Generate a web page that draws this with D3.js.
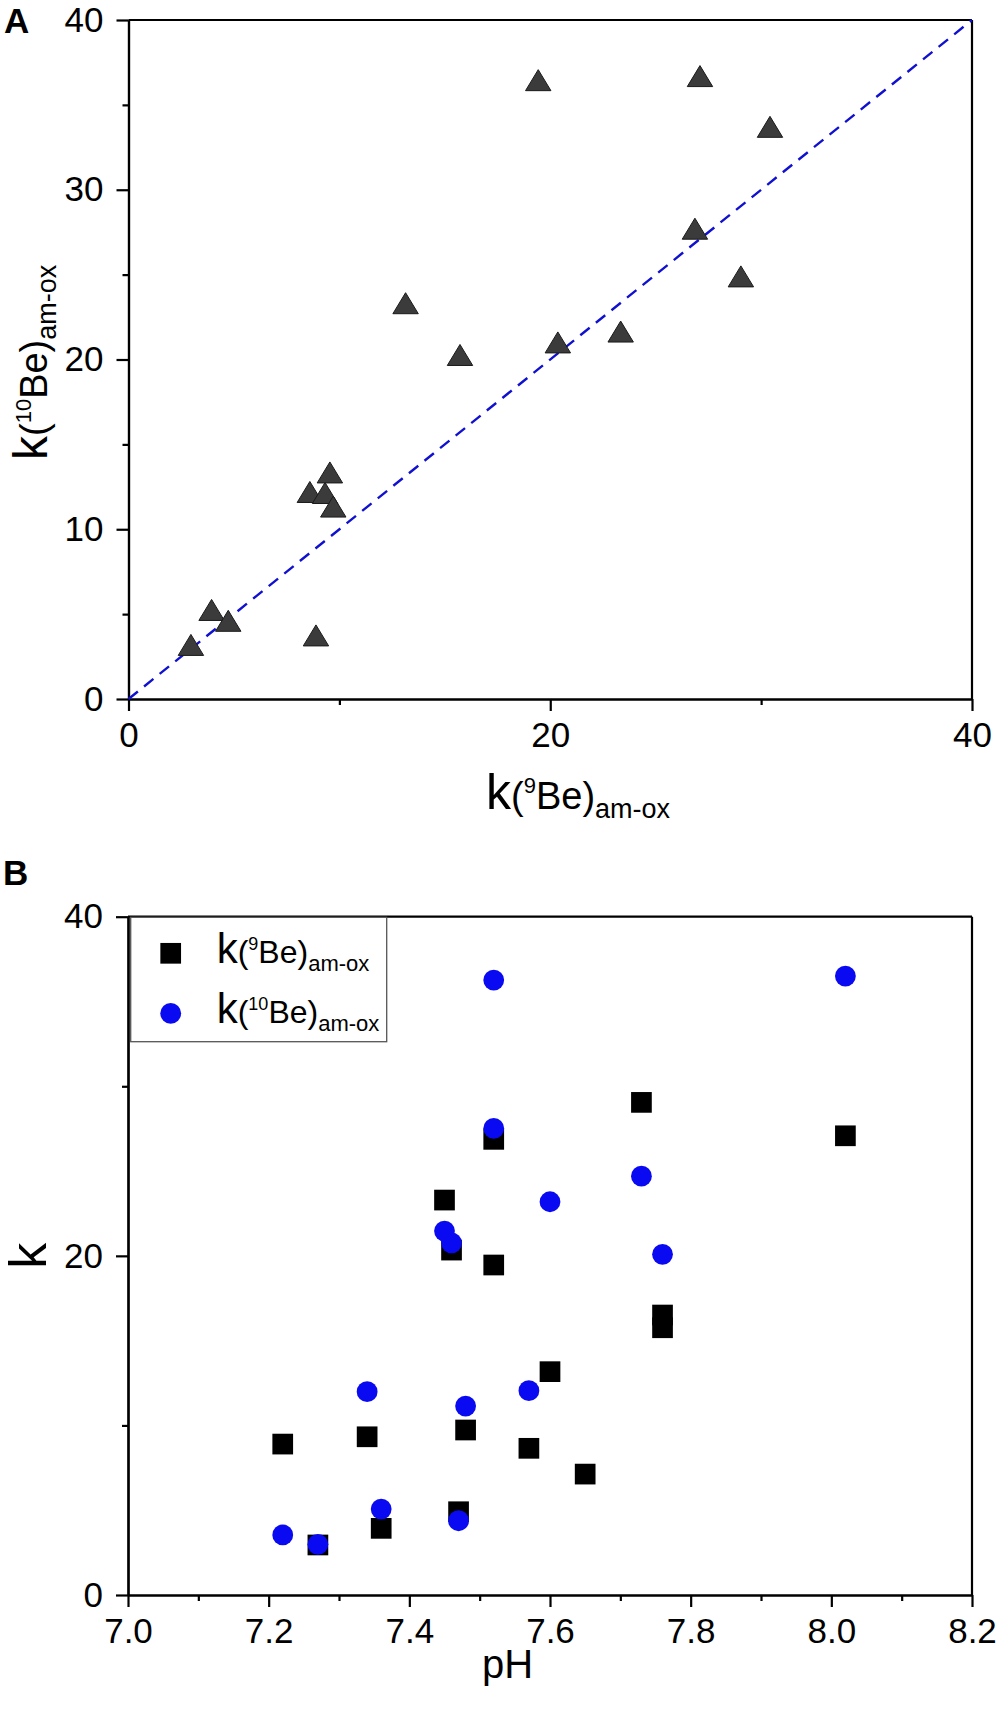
<!DOCTYPE html>
<html>
<head>
<meta charset="utf-8">
<script src="https://cdn.jsdelivr.net/npm/d3@7"></script>
<style>
  body { margin: 0; background: #fff; }
  text { font-family: 'Liberation Sans', Arial, sans-serif; fill: #000; }
</style>
</head>
<body>
<svg id="fig" width="1000" height="1731"></svg>
<script>
// panel A: k(9Be) vs k(10Be), one triangle per sample
const k9A = [2.96, 3.94, 4.73, 8.89, 8.60, 9.32, 9.55, 9.71, 13.14, 15.72, 19.43, 20.36, 23.34, 26.86, 27.1, 29.04, 30.42]
const k10A = [2.98, 5.04, 4.40, 3.54, 11.99, 11.93, 13.14, 11.13, 23.11, 20.06, 36.25, 20.8, 21.44, 27.5, 36.49, 24.69, 33.5]

// panel B: k against pH
const phSquares = [7.22, 7.27, 7.34, 7.36, 7.45, 7.46, 7.47, 7.48, 7.52, 7.52, 7.57, 7.60, 7.65, 7.73, 7.76, 7.76, 8.02]
const k9B = [8.9, 2.95, 9.33, 3.93, 23.29, 20.34, 4.91, 9.73, 26.87, 19.46, 8.65, 13.17, 7.13, 29.05, 16.51, 15.76, 27.08]
const phCircles = [7.22, 7.27, 7.34, 7.36, 7.45, 7.46, 7.47, 7.48, 7.52, 7.52, 7.57, 7.60, 7.73, 7.76, 8.02]
const k10B = [3.54, 2.99, 11.99, 5.07, 21.46, 20.77, 4.38, 11.14, 36.26, 27.52, 12.05, 23.19, 24.7, 20.09, 36.5]

const ticksA = [0, 10, 20, 30, 40]
const ticksAx = [0, 20, 40]
const minorAx = [10, 30]
const minorAy = [5, 15, 25, 35]
const ticksPh = [7.0, 7.2, 7.4, 7.6, 7.8, 8.0, 8.2]
const minorPh = [7.1, 7.3, 7.5, 7.7, 7.9, 8.1]
const ticksBy = [0, 20, 40]
const minorBy = [10, 30]

const svg = d3.select('#fig')
const FONT = "'Liberation Sans', Arial, sans-serif"

const boxA = { left: 128.5, right: 972, top: 20, bottom: 699 }
const boxB = { left: 128, right: 972, top: 916.7, bottom: 1595 }

const xA = d3.scaleLinear().domain([0, 40]).range([boxA.left, boxA.right])
const yA = d3.scaleLinear().domain([0, 40]).range([boxA.bottom, boxA.top])
const xB = d3.scaleLinear().domain([7.0, 8.2]).range([boxB.left, boxB.right])
const yB = d3.scaleLinear().domain([0, 40]).range([boxB.bottom, boxB.top])

function addAxes(xScale, yScale, xMajor, xMinor, yMajor, yMinor, xFmt) {
    const g = svg.append('g')
    const y0 = yScale.range()[0]
    const x0 = xScale.range()[0]
    g.append('g').attr('transform', `translate(0,${y0})`)
        .call(d3.axisBottom(xScale).tickValues(xMinor).tickSize(6).tickSizeOuter(0).tickFormat(''))
    g.append('g').attr('transform', `translate(0,${y0})`)
        .call(d3.axisBottom(xScale).tickValues(xMajor).tickSize(12).tickSizeOuter(0).tickPadding(11).tickFormat(xFmt))
    g.append('g').attr('transform', `translate(${x0},0)`)
        .call(d3.axisLeft(yScale).tickValues(yMinor).tickSize(6).tickSizeOuter(0).tickFormat(''))
    g.append('g').attr('transform', `translate(${x0},0)`)
        .call(d3.axisLeft(yScale).tickValues(yMajor).tickSize(12).tickSizeOuter(0).tickPadding(13).tickFormat(d3.format('d')))

    // box: top and right edges
    g.append('line')
        .attr('x1', xScale.range()[0]).attr('x2', xScale.range()[1])
        .attr('y1', yScale.range()[1]).attr('y2', yScale.range()[1])
    g.append('line')
        .attr('x1', xScale.range()[1]).attr('x2', xScale.range()[1])
        .attr('y1', yScale.range()[0]).attr('y2', yScale.range()[1])

    g.selectAll('path.domain, line').attr('stroke', '#000').attr('stroke-width', 2.2)
    g.selectAll('.tick text')
        .attr('font-size', 35)
        .attr('font-family', FONT)
        .attr('fill', '#000')
    return g
}

// text with sub/superscripts, parts: {t, size, shift}
function richText(parent, parts) {
    const txt = parent.append('text')
    let prev = 0
    parts.forEach(function (p) {
        const s = p.shift || 0
        txt.append('tspan')
            .attr('font-size', p.size)
            .attr('dy', s - prev)
            .text(p.t)
        prev = s
    })
    return txt
}

function kLabel(iso, big, mid, sup, sub, supShift, subShift) {
    return [
        { t: 'k', size: big },
        { t: '(', size: mid },
        { t: iso, size: sup, shift: -supShift },
        { t: 'Be', size: mid },
        { t: ')', size: mid },
        { t: 'am-ox', size: sub, shift: subShift },
    ]
}

// ---------- panel A ----------
addAxes(xA, yA, ticksAx, minorAx, ticksA, minorAy, d3.format('d'))

svg.append('line')
    .attr('x1', xA(0)).attr('y1', yA(0))
    .attr('x2', xA(40)).attr('y2', yA(40))
    .attr('stroke', '#1010d0')
    .attr('stroke-width', 2.4)
    .attr('stroke-dasharray', '12,8')

const triPath = 'M0,-14L12.7,7L-12.7,7Z'
svg.append('g').selectAll('path')
    .data(d3.range(k9A.length))
    .join('path')
    .attr('d', triPath)
    .attr('transform', i => `translate(${xA(k9A[i])},${yA(k10A[i])})`)
    .attr('fill', '#3b3b3b')
    .attr('stroke', '#1a1a1a')
    .attr('stroke-width', 1)

richText(svg.append('g').attr('transform', 'translate(486,809)'),
    kLabel('9', 50, 38, 22, 27, 16, 9))
richText(svg.append('g').attr('transform', 'translate(47,460) rotate(-90)'),
    kLabel('10', 48, 38, 22, 27, 16, 9))

svg.append('text').attr('x', 4).attr('y', 33)
    .attr('font-size', 35).attr('font-weight', 'bold').text('A')

// ---------- panel B ----------
addAxes(xB, yB, ticksPh, minorPh, ticksBy, minorBy, d3.format('.1f'))

const square = d3.symbol(d3.symbolSquare, 20.7 * 20.7)
const circle = d3.symbol(d3.symbolCircle, Math.PI * 10.4 * 10.4)

svg.append('g').selectAll('path')
    .data(d3.range(phSquares.length))
    .join('path')
    .attr('d', square)
    .attr('transform', i => `translate(${xB(phSquares[i])},${yB(k9B[i])})`)
    .attr('fill', '#000')

svg.append('g').selectAll('path')
    .data(d3.range(phCircles.length))
    .join('path')
    .attr('d', circle)
    .attr('transform', i => `translate(${xB(phCircles[i])},${yB(k10B[i])})`)
    .attr('fill', '#0a0af2')

// legend
const leg = svg.append('g').attr('transform', 'translate(130.7,917.3)')
leg.append('rect')
    .attr('width', 256).attr('height', 124.4)
    .attr('fill', '#fff').attr('stroke', '#555').attr('stroke-width', 1.3)
leg.append('path').attr('d', square).attr('transform', 'translate(40,36)').attr('fill', '#000')
leg.append('path').attr('d', circle).attr('transform', 'translate(40,96)').attr('fill', '#0a0af2')
richText(leg.append('g').attr('transform', 'translate(86,46)'), kLabel('9', 42, 32, 18, 22, 13, 8))
richText(leg.append('g').attr('transform', 'translate(86,106)'), kLabel('10', 42, 32, 18, 22, 13, 8))

svg.append('text')
    .attr('transform', `translate(46,${(boxB.top + boxB.bottom) / 2}) rotate(-90)`)
    .attr('text-anchor', 'middle')
    .attr('font-size', 52)
    .text('k')
svg.append('text').attr('x', 482).attr('y', 1678)
    .attr('font-size', 40).text('pH')

svg.append('text').attr('x', 3).attr('y', 885)
    .attr('font-size', 35).attr('font-weight', 'bold').text('B')
</script>
</body>
</html>
